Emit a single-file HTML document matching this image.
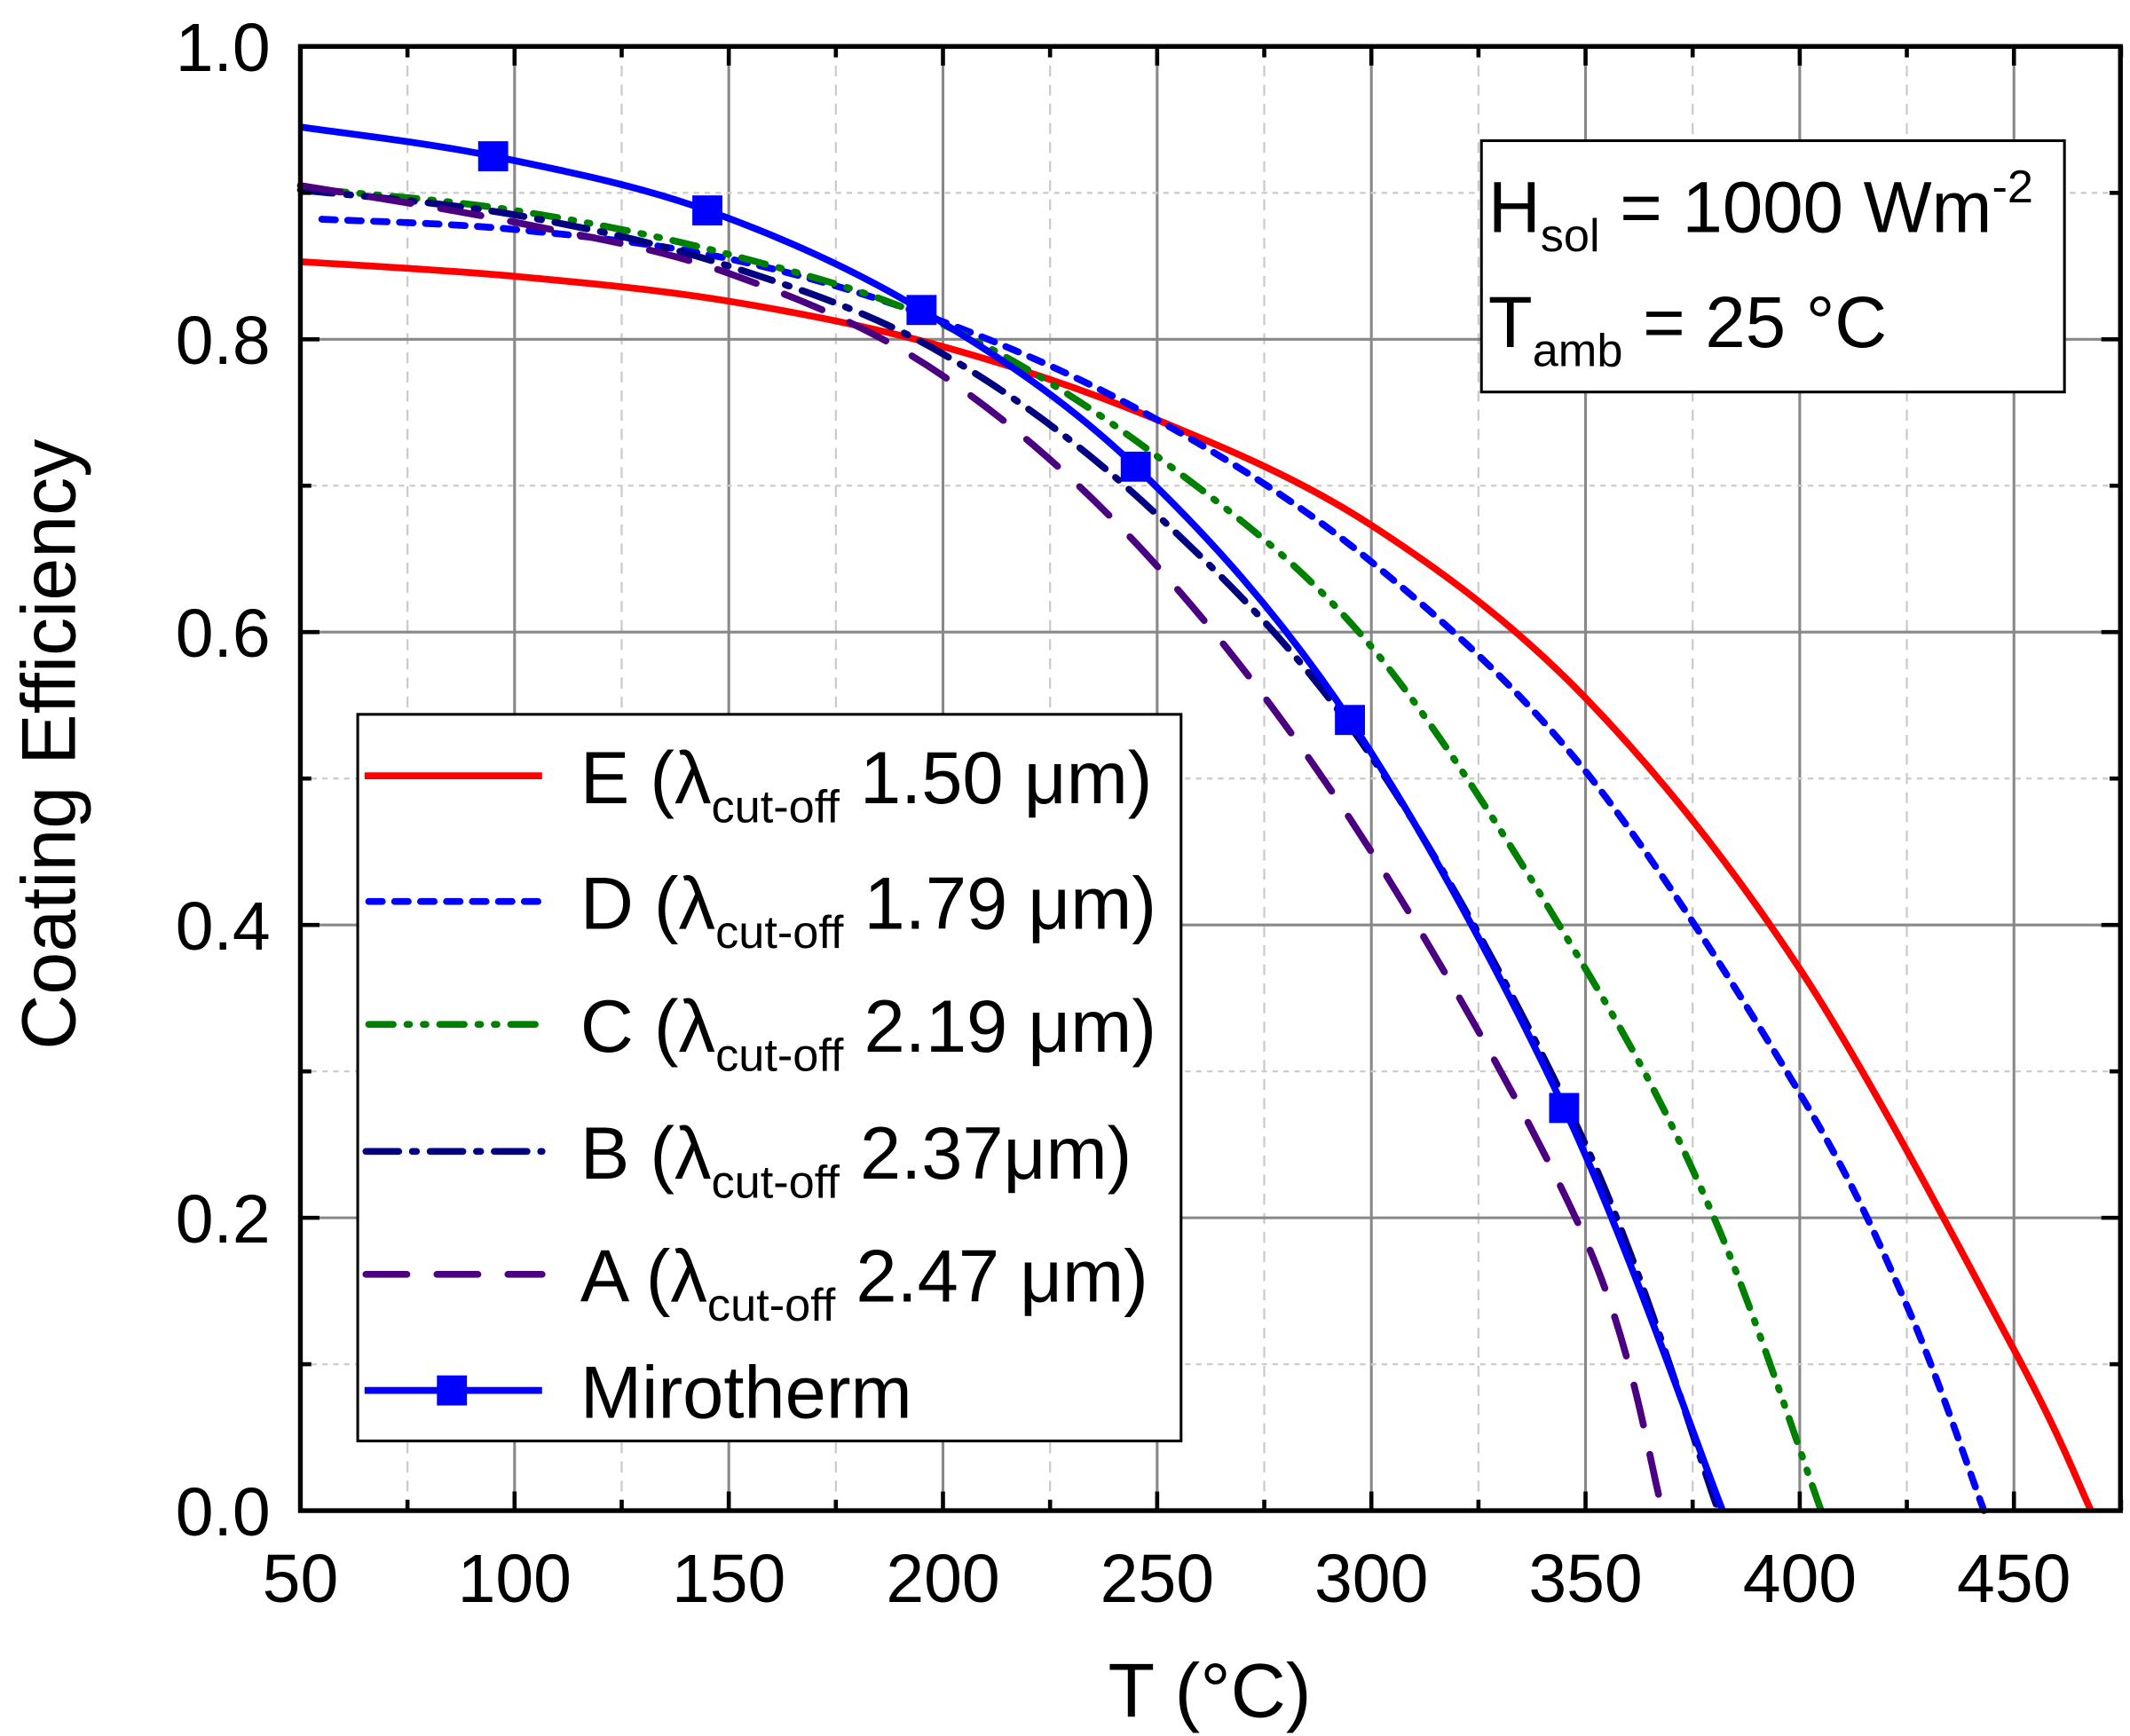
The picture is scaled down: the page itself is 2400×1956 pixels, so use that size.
<!DOCTYPE html>
<html><head><meta charset="utf-8"><style>
html,body{margin:0;padding:0;background:#fff}
svg{display:block}
text{font-family:"Liberation Sans",Arial,sans-serif;fill:#000}
</style></head><body>
<svg id="s" width="2400" height="1956" viewBox="0 0 1560 1271" preserveAspectRatio="none" xmlns="http://www.w3.org/2000/svg">
<rect width="1560" height="1271" fill="#fff"/>
<g id="grid"></g>
<g id="curves"></g>
<rect x="220" y="34" width="1333" height="1072" fill="none" stroke="#000" stroke-width="3.5"/>
<g id="ticks"></g>
<g font-size="50" text-anchor="middle" id="xl"></g>
<g font-size="50" text-anchor="end" id="yl"></g>
<text x="886" y="1257" font-size="56" text-anchor="middle">T (°C)</text>
<text transform="translate(55,545) rotate(-90)" font-size="56" text-anchor="middle">Coating Efficiency</text>
<rect x="1085" y="103" width="427" height="184" fill="#fff" stroke="#000" stroke-width="2"/>
<text x="1090" y="170" font-size="53">H<tspan font-size="34" dy="14">sol</tspan><tspan dy="-14"> = 1000 Wm</tspan><tspan font-size="34" dy="-22">-2</tspan></text>
<text x="1090" y="254" font-size="53">T<tspan font-size="34" dy="14">amb</tspan><tspan dy="-14"> = 25 °C</tspan></text>
<rect x="262" y="523" width="603" height="532" fill="#fff" stroke="#000" stroke-width="2"/>
<g stroke-width="5" fill="none">
<line x1="267" y1="568" x2="397" y2="568" stroke="#f00"/>
<line x1="270" y1="660" x2="397" y2="660" stroke="#00f" stroke-dasharray="10 9" stroke-linecap="round"/>
<line x1="270" y1="750" x2="397" y2="750" stroke="#008000" stroke-dasharray="18 10 2 10 2 10" stroke-linecap="round"/>
<line x1="268" y1="843" x2="397" y2="843" stroke="#000080" stroke-dasharray="24 10 3 10" stroke-linecap="round"/>
<line x1="268" y1="933" x2="397" y2="933" stroke="#4b0082" stroke-dasharray="30 22" stroke-linecap="round"/>
<line x1="267" y1="1018" x2="397" y2="1018" stroke="#00f"/>
</g>
<rect x="320" y="1007" width="22" height="22" fill="#00f"/>
<g font-size="54">
<text x="425" y="588">E (λ<tspan font-size="34" dy="14">cut-off</tspan><tspan dy="-14"> 1.50 μm)</tspan></text>
<text x="425" y="680">D (λ<tspan font-size="34" dy="14">cut-off</tspan><tspan dy="-14"> 1.79 μm)</tspan></text>
<text x="425" y="770">C (λ<tspan font-size="34" dy="14">cut-off</tspan><tspan dy="-14"> 2.19 μm)</tspan></text>
<text x="425" y="863">B (λ<tspan font-size="34" dy="14">cut-off</tspan><tspan dy="-14"> 2.37μm)</tspan></text>
<text x="425" y="953">A (λ<tspan font-size="34" dy="14">cut-off</tspan><tspan dy="-14"> 2.47 μm)</tspan></text>
<text x="425" y="1038">Mirotherm</text>
</g>
</svg>
<script>
var NS="http://www.w3.org/2000/svg";
function X(t){return 220+(t-50)*3.1375}
function Y(v){return 1106-1072*v}
function el(p,tag,a){var e=document.createElementNS(NS,tag);for(var k in a)e.setAttribute(k,a[k]);p.appendChild(e);return e}
var g=document.getElementById('grid'),tk=document.getElementById('ticks');
for(var t=75;t<475;t+=25){var maj=(t%50==0);el(g,'line',{x1:X(t),x2:X(t),y1:34,y2:1106,stroke:maj?'#888':'#ccc','stroke-width':maj?2:1.5,'stroke-dasharray':maj?'':'8 6'});}
for(var v=0.1;v<0.99;v+=0.1){var m=Math.round(v*10)%2==0;el(g,'line',{x1:220,x2:1553,y1:Y(v),y2:Y(v),stroke:m?'#888':'#ccc','stroke-width':m?2:1.5,'stroke-dasharray':m?'':'4 4'});}
for(var t=50;t<=475;t+=25){var L=(t%50==0)?14:8;el(tk,'line',{x1:X(t),x2:X(t),y1:1106,y2:1106-L,stroke:'#000','stroke-width':3});el(tk,'line',{x1:X(t),x2:X(t),y1:34,y2:34+L,stroke:'#000','stroke-width':3});}
for(var i=0;i<=10;i++){var v=i/10,L=(i%2==0)?14:8;el(tk,'line',{x1:220,x2:220+L,y1:Y(v),y2:Y(v),stroke:'#000','stroke-width':3});el(tk,'line',{x1:1553,x2:1553-L,y1:Y(v),y2:Y(v),stroke:'#000','stroke-width':3});}
var xl=document.getElementById('xl');for(var t=50;t<=450;t+=50){el(xl,'text',{x:X(t),y:1173}).textContent=t;}
var yl=document.getElementById('yl');for(var i=0;i<=5;i++){el(yl,'text',{x:198,y:Y(i*0.2)+18}).textContent=(i*0.2).toFixed(1);}
function path(pts){var p=pts.map(function(a){return[X(a[0]),Y(a[1])]});var d='M'+p[0][0]+','+p[0][1];
for(var i=0;i<p.length-1;i++){var p0=p[i-1]||p[i],p1=p[i],p2=p[i+1],p3=p[i+2]||p2;
d+=' C'+(p1[0]+(p2[0]-p0[0])/6)+','+(p1[1]+(p2[1]-p0[1])/6)+' '+(p2[0]-(p3[0]-p1[0])/6)+','+(p2[1]-(p3[1]-p1[1])/6)+' '+p2[0]+','+p2[1];}return d}
var c=document.getElementById('curves');
var S=[
[[[50,.853],[100,.843],[150,.826],[200,.795],[250,.745],[300,.673],[350,.555],[400,.37],[450,.11],[468,0]],'#f00',''],
[[[55,.882],[100,.875],[150,.855],[200,.812],[250,.745],[300,.648],[350,.505],[400,.285],[425,.14],[443,0]],'#00f','10 9'],
[[[55,.902],[100,.888],[150,.858],[200,.81],[250,.72],[300,.59],[350,.37],[380,.2],[405,0]],'#008000','18 10 2 10 2 10'],
[[[50,.902],[100,.885],[150,.85],[200,.79],[250,.68],[300,.515],[350,.25],[381,0]],'#000080','24 10 3 10'],
[[[50,.905],[100,.88],[150,.845],[200,.775],[250,.645],[300,.45],[350,.185],[368,0]],'#4b0082','30 22'],
[[[50,.945],[95,.925],[145,.888],[195,.82],[245,.713],[295,.54],[345,.275],[382,0]],'#00f','']
];
S.forEach(function(s){el(c,'path',{d:path(s[0]),fill:'none',stroke:s[1],'stroke-width':5,'stroke-dasharray':s[2],'stroke-linecap':s[2]?'round':'butt'});});
[[95,.925],[145,.888],[195,.82],[245,.713],[295,.54],[345,.275]].forEach(function(a){el(c,'rect',{x:X(a[0])-11,y:Y(a[1])-11,width:22,height:22,fill:'#00f'});});
</script>
</body></html>
